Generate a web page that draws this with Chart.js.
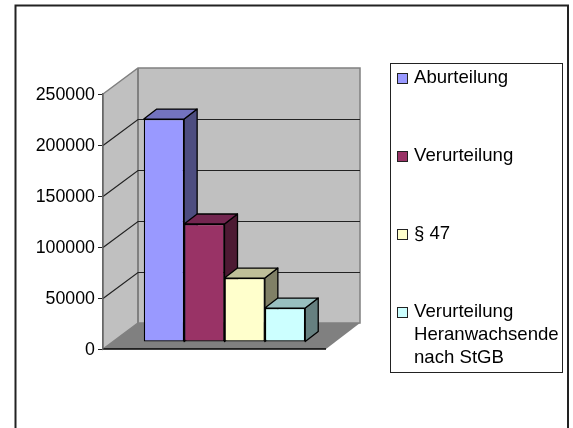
<!DOCTYPE html>
<html>
<head>
<meta charset="utf-8">
<style>
  html, body { margin: 0; background: #fff; }
  canvas { display: block; }
</style>
</head>
<body>
<canvas id="chart3d" width="573" height="428"></canvas>
<script src="https://cdn.jsdelivr.net/npm/chart.js"></script>
<script>
var categories = [''];
var seriesNames = ['Aburteilung', 'Verurteilung', '§ 47', 'Verurteilung Heranwachsende nach StGB'];
var seriesValues = [218600, 115700, 62700, 33300];
var legendLines = [['Aburteilung'], ['Verurteilung'], ['§ 47'], ['Verurteilung', 'Heranwachsende', 'nach StGB']];
var frontColors = ['#9999FF', '#993366', '#FFFFCC', '#CCFFFF'];
var topColors = ['#7373BF', '#732650', '#BFBF99', '#99BFBF'];
var sideColors = ['#4D4D80', '#4D1A33', '#808066', '#668080'];

var FONT_FAMILY = '"Liberation Sans", Arial, sans-serif';

// the room behind the bars: side wall, back wall, floor
var room = {
  id: 'room',
  beforeDraw: function(chart) {
    var c = chart.ctx, a = chart.chartArea, y = chart.scales.y;
    var dx = 35, dy = 26;

    // page frame
    c.save();
    c.strokeStyle = '#222';
    c.lineWidth = 2;
    c.beginPath();
    c.moveTo(15.5, 428);
    c.lineTo(15.5, 5.5);
    c.lineTo(568, 5.5);
    c.lineTo(568, 428);
    c.stroke();

    c.fillStyle = '#C0C0C0';
    c.strokeStyle = '#808080';
    c.lineWidth = 1.5;
    c.beginPath();
    c.moveTo(a.left, a.top);
    c.lineTo(a.left + dx, a.top - dy);
    c.lineTo(a.right + dx - 1, a.top - dy);
    c.lineTo(a.right + dx - 1, a.bottom - dy);
    c.lineTo(a.left + dx, a.bottom - dy);
    c.lineTo(a.left, a.bottom);
    c.closePath();
    c.fill();
    c.stroke();

    c.lineWidth = 2;
    c.beginPath();
    c.moveTo(a.left + dx, a.top - dy);
    c.lineTo(a.left + dx, a.bottom - dy);
    c.stroke();

    c.fillStyle = '#808080';
    c.beginPath();
    c.moveTo(a.left, a.bottom);
    c.lineTo(a.left + dx, a.bottom - dy);
    c.lineTo(a.right + dx - 1, a.bottom - dy);
    c.lineTo(a.right, a.bottom);
    c.closePath();
    c.fill();

    // gridlines, one per tick
    c.lineWidth = 1.2;
    y.ticks.forEach(function(t) {
      if (t.value === 0 || t.value === y.max) return;
      var py = Math.round(y.getPixelForValue(t.value)) + 0.5;
      c.strokeStyle = '#222';
      c.beginPath();
      c.moveTo(a.left, py);
      c.lineTo(a.left + dx, py - dy);
      c.lineTo(a.right + dx - 1, py - dy);
      c.stroke();
    });

    c.strokeStyle = '#000';
    c.lineWidth = 1.5;
    c.beginPath();
    c.moveTo(a.left, a.bottom);
    c.lineTo(a.right, a.bottom);
    c.stroke();
    c.restore();
  },
  // bars stand a little inside the room and overlap left to right,
  // so they are painted here in that order instead of the default one
  beforeDatasetsDraw: function(chart) {
    var c = chart.ctx;
    var dx = 13, dy = 10;
    c.save();
    c.translate(10, -7);
    seriesNames.forEach(function(name, i) {
      var bar = chart.getDatasetMeta(i).data[0];
      var l = bar.x - bar.width / 2, r = bar.x + bar.width / 2;
      var t = bar.y, b = bar.base;
      bar.draw(c);
      c.strokeStyle = '#000';
      c.lineWidth = 1.3;
      c.lineJoin = 'round';
      c.fillStyle = sideColors[i];
      c.beginPath();
      c.moveTo(r, t);
      c.lineTo(r + dx, t - dy);
      c.lineTo(r + dx, b - dy);
      c.lineTo(r, b);
      c.closePath();
      c.fill();
      c.stroke();
      c.fillStyle = topColors[i];
      c.beginPath();
      c.moveTo(l, t);
      c.lineTo(l + dx, t - dy);
      c.lineTo(r + dx, t - dy);
      c.lineTo(r, t);
      c.closePath();
      c.fill();
      c.stroke();
    });
    c.restore();
    return false;
  }
};

var boxLegend = {
  id: 'boxLegend',
  afterDraw: function(chart) {
    var c = chart.ctx;
    c.save();
    c.fillStyle = '#fff';
    c.strokeStyle = '#222';
    c.lineWidth = 1;
    c.fillRect(390.5, 63.5, 172, 309);
    c.strokeRect(390.5, 63.5, 172, 309);
    c.font = '18.6px ' + FONT_FAMILY;
    c.textBaseline = 'middle';
    c.textAlign = 'left';
    legendLines.forEach(function(lines, i) {
      var y = 78 + i * 78;
      c.fillStyle = frontColors[i];
      c.strokeStyle = '#222';
      c.fillRect(397.5, y - 4.5, 10, 10);
      c.strokeRect(397.5, y - 4.5, 10, 10);
      c.fillStyle = '#000';
      lines.forEach(function(line, j) {
        c.fillText(line, 414, y + j * 23);
      });
    });
    c.restore();
  }
};

new Chart(document.getElementById('chart3d').getContext('2d'), {
  type: 'bar',
  data: {
    labels: categories,
    datasets: seriesNames.map(function(name, i) {
      return {
        label: name,
        data: [seriesValues[i]],
        backgroundColor: frontColors[i],
        borderColor: '#000',
        borderWidth: 1.3,
        borderSkipped: false
      };
    })
  },
  options: {
    responsive: false,
    animation: false,
    events: [],
    layout: { padding: { left: 0, top: 94, right: 247, bottom: 79 } },
    datasets: { bar: { categoryPercentage: 0.724, barPercentage: 1 } },
    plugins: { legend: { display: false }, tooltip: { enabled: false } },
    scales: {
      x: { display: false },
      y: {
        min: 0,
        max: 250000,
        afterFit: function(scale) { scale.width = 103; },
        border: { color: '#666', width: 1.5 },
        grid: { drawOnChartArea: false, drawTicks: true, tickLength: 5, color: '#222' },
        ticks: {
          stepSize: 50000,
          padding: 3,
          labelOffset: 1,
          color: '#000',
          font: { family: FONT_FAMILY, size: 17.8 },
          callback: function(value) { return String(value); }
        }
      }
    }
  },
  plugins: [room, boxLegend]
});
</script>
</body>
</html>
